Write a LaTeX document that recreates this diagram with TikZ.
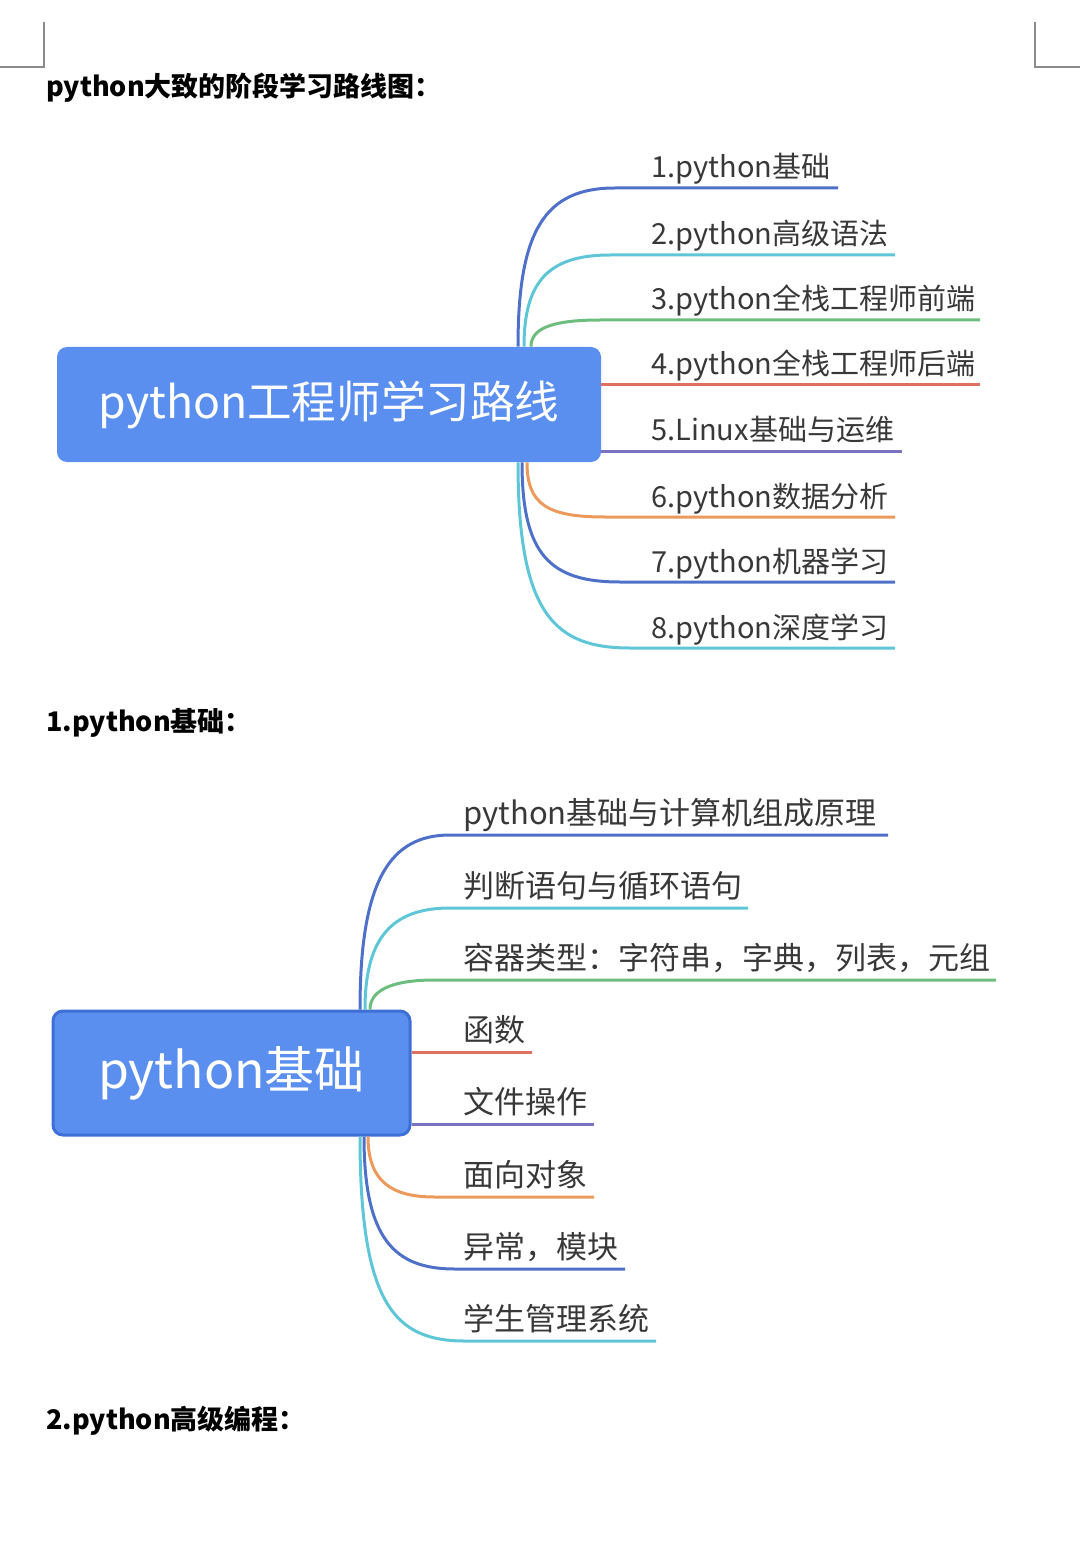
\documentclass[tikz,border=0pt]{standalone}
\usepackage{fontspec}
\setmainfont{Noto Sans CJK SC}
\definecolor{boxblue}{HTML}{5B8FEF}
\definecolor{boxedge}{HTML}{3E6FD6}
\definecolor{cblue}{HTML}{4F70C8}
\definecolor{cteal}{HTML}{5EC6D6}
\definecolor{cgreen}{HTML}{6DBE7E}
\definecolor{cred}{HTML}{E0705F}
\definecolor{cpurple}{HTML}{7B72C2}
\definecolor{corange}{HTML}{EB9A5C}
\definecolor{txtgray}{HTML}{383838}
\definecolor{markgray}{HTML}{8A8A8A}
\begin{document}
\begin{tikzpicture}[x=0.5pt,y=-0.5pt,
  head/.style={anchor=base west, inner sep=0pt, text=black, font=\bfseries\fontsize{13.5pt}{16pt}\selectfont},
  lblA/.style={anchor=base west, inner sep=0pt, text=txtgray, font=\fontsize{14.5pt}{17pt}\selectfont},
  lblB/.style={anchor=base west, inner sep=0pt, text=txtgray, font=\fontsize{15.5pt}{18pt}\selectfont},
  rootbox/.style={rounded corners=5pt, fill=boxblue, text=white, inner sep=0pt},
  branch/.style={line width=1.5pt},
  cornermark/.style={draw=markgray, line width=0.9pt}]
\useasboundingbox (0,0) rectangle (1080,1545);
% corner marks
\coordinate (tl1) at (44,22); \coordinate (tl2) at (44,67); \coordinate (tl3) at (0,67);
\coordinate (tr1) at (1035,22); \coordinate (tr2) at (1035,67); \coordinate (tr3) at (1080,67);
\draw[cornermark] (tl1) -- (tl2) -- (tl3);
\draw[cornermark] (tr1) -- (tr2) -- (tr3);
% headings
\node[head] (h0) at (46,97) {python大致的阶段学习路线图：};
\node[head] (h1) at (46,731) {1.python基础：};
\node[head] (h2) at (46,1429) {2.python高级编程：};

% ===== diagram 1 =====
\node[rootbox, font=\fontsize{22.3pt}{26pt}\selectfont, minimum width=272pt, minimum height=57.5pt] (root1) at (329,404.5) {python工程师学习路线};
\coordinate (a1) at (838,188);
\coordinate (a2) at (895,255);
\coordinate (a3) at (980,320);
\coordinate (a4) at (980,385);
\coordinate (a5) at (902,451);
\coordinate (a6) at (895,517);
\coordinate (a7) at (895,582);
\coordinate (a8) at (895,648);
\draw[branch,cblue]   ([xshift=94.5pt]root1.north) .. controls (518,230) and (545,188) .. (615,188) -- (a1);
\draw[branch,cteal]   ([xshift=97.5pt]root1.north) .. controls (524,282) and (548,255) .. (610,255) -- (a2);
\draw[branch,cgreen]  ([xshift=101pt]root1.north) .. controls (531,330) and (548,320) .. (600,320) -- (a3);
\draw[branch,cred]    ([yshift=9.75pt]root1.east) -- (a4);
\draw[branch,cpurple] ([yshift=-23.25pt]root1.east) -- (a5);
\draw[branch,corange] ([xshift=99pt]root1.south) .. controls (527,505) and (548,517) .. (605,517) -- (a6);
\draw[branch,cblue]   ([xshift=96.5pt]root1.south) .. controls (522,555) and (550,582) .. (620,582) -- (a7);
\draw[branch,cteal]   ([xshift=94.5pt]root1.south) .. controls (518,615) and (555,648) .. (630,648) -- (a8);
\node[lblA] (t1) at (651,178) {1.python基础};
\node[lblA] (t2) at (651,245) {2.python高级语法};
\node[lblA] (t3) at (651,310) {3.python全栈工程师前端};
\node[lblA] (t4) at (651,375) {4.python全栈工程师后端};
\node[lblA] (t5) at (651,441) {5.Linux基础与运维};
\node[lblA] (t6) at (651,507) {6.python数据分析};
\node[lblA] (t7) at (651,572) {7.python机器学习};
\node[lblA] (t8) at (651,638) {8.python深度学习};

% ===== diagram 2 =====
\node[rootbox, font=\fontsize{25pt}{28pt}\selectfont, draw=boxedge, line width=1.5pt, minimum width=178.5pt, minimum height=62pt] (root2) at (231.5,1073) {python基础};
\coordinate (b1) at (888,835);
\coordinate (b2) at (748,908);
\coordinate (b3) at (996,980);
\coordinate (b4) at (532,1052);
\coordinate (b5) at (594,1124);
\coordinate (b6) at (594,1197);
\coordinate (b7) at (625,1269);
\coordinate (b8) at (656,1341);
\draw[branch,cblue]   ([xshift=64.25pt]root2.north) .. controls (360,880) and (390,835) .. (450,835) -- (b1);
\draw[branch,cteal]   ([xshift=66.75pt]root2.north) .. controls (365,940) and (390,908) .. (450,908) -- (b2);
\draw[branch,cgreen]  ([xshift=69.25pt]root2.north) .. controls (370,992) and (388,980) .. (435,980) -- (b3);
\draw[branch,cred]    ([yshift=10.5pt]root2.east) -- (b4);
\draw[branch,cpurple] ([yshift=-25.5pt]root2.east) -- (b5);
\draw[branch,corange] ([xshift=68.25pt]root2.south) .. controls (368,1182) and (392,1197) .. (435,1197) -- (b6);
\draw[branch,cblue]   ([xshift=66.25pt]root2.south) .. controls (364,1240) and (395,1269) .. (455,1269) -- (b7);
\draw[branch,cteal]   ([xshift=64.25pt]root2.south) .. controls (360,1305) and (395,1341) .. (465,1341) -- (b8);
\node[lblB] (s1) at (463,824) {python基础与计算机组成原理};
\node[lblB] (s2) at (463,897) {判断语句与循环语句};
\node[lblB] (s3) at (463,969) {容器类型：字符串，字典，列表，元组};
\node[lblB] (s4) at (463,1041) {函数};
\node[lblB] (s5) at (463,1113) {文件操作};
\node[lblB] (s6) at (463,1186) {面向对象};
\node[lblB] (s7) at (463,1258) {异常，模块};
\node[lblB] (s8) at (463,1330) {学生管理系统};
\end{tikzpicture}
\end{document}
